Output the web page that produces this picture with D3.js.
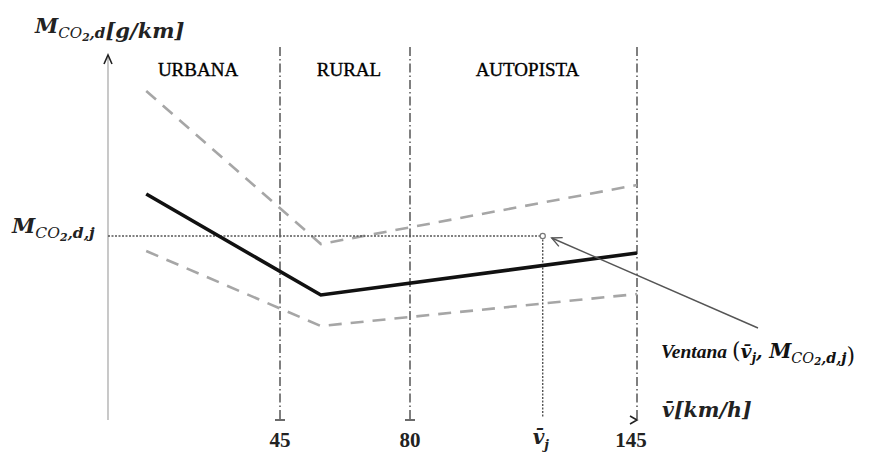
<!DOCTYPE html>
<html>
<head>
<meta charset="utf-8">
<script src="https://cdn.jsdelivr.net/npm/d3@7/dist/d3.min.js"></script>
<style>
  html, body { margin: 0; padding: 0; background: #fff; }
  svg { display: block; }
  .serif { font-family: "Liberation Serif", "DejaVu Serif", serif; }
  .math { font-family: "DejaVu Serif", "Liberation Serif", serif; font-style: italic; font-weight: bold; }
</style>
</head>
<body>
<svg id="chart" width="874" height="452"></svg>
<script>
// Speed zones (km/h) and their labels
const zoneBounds = [0, 45, 80, 145];
const zoneNames = ["URBANA", "RURAL", "AUTOPISTA"];
const tickSpeeds = [45, 80, 145];

// CO2 emission curve vs. mean speed (schematic g/km values)
const speeds = [10, 56, 145];
const meanCurve = [225, 124, 166];
const upperBand = [328, 175, 234];
const lowerBand = [168, 93, 125];

// Sample window (mean speed, emission)
const windowSpeed = 118;
const windowEmission = 183;

const svg = d3.select("#chart");

// Piecewise scale: the zones are drawn schematically, not to scale
const x = d3.scaleLinear().domain(zoneBounds).range([108, 280, 410, 637]);
const y = d3.scaleLinear().domain([0, 360]).range([419, 59]);

const line = d3.line().x(d => x(d[0])).y(d => y(d[1]));
const pts = arr => speeds.map((s, i) => [s, arr[i]]);

// Zone boundaries (dash-dot)
svg.selectAll("line.zone").data(tickSpeeds).join("line")
  .attr("class", "zone")
  .attr("x1", d => x(d)).attr("x2", d => x(d))
  .attr("y1", 47).attr("y2", y(0))
  .attr("stroke", "#555").attr("stroke-width", 1.5)
  .attr("stroke-dasharray", "9,3,1.5,3");

// Small ticks at the foot of the boundaries
svg.selectAll("line.tick").data([45, 80]).join("line")
  .attr("class", "tick")
  .attr("x1", d => x(d) - 5).attr("x2", d => x(d) + 5)
  .attr("y1", y(0) + 1).attr("y2", y(0) + 1)
  .attr("stroke", "#444").attr("stroke-width", 1.6);

// Y axis with arrow
svg.append("line")
  .attr("x1", x(0)).attr("x2", x(0))
  .attr("y1", 58).attr("y2", y(0) + 1)
  .attr("stroke", "#bbb").attr("stroke-width", 1.6);
svg.append("path")
  .attr("d", `M${x(0) - 4},${64} L${x(0)},${55} L${x(0) + 4},${64}`)
  .attr("fill", "none").attr("stroke", "#222").attr("stroke-width", 1.6);

// X axis arrow head at 145
svg.append("path")
  .attr("d", `M${x(145) - 7},${y(0) - 3} L${x(145)},${y(0) + 1} L${x(145) - 7},${y(0) + 5}`)
  .attr("fill", "none").attr("stroke", "#222").attr("stroke-width", 1.6);

// Dashed band curves
[upperBand, lowerBand].forEach(b => {
  svg.append("path")
    .attr("d", line(pts(b)))
    .attr("fill", "none").attr("stroke", "#a6a6a6").attr("stroke-width", 2.6)
    .attr("stroke-dasharray", "13,9");
});

// Window guides (dotted)
svg.append("line")
  .attr("x1", x(0)).attr("x2", x(windowSpeed))
  .attr("y1", y(windowEmission)).attr("y2", y(windowEmission))
  .attr("stroke", "#555").attr("stroke-width", 1.4).attr("stroke-dasharray", "2,1.5");
svg.append("line")
  .attr("x1", x(windowSpeed)).attr("x2", x(windowSpeed))
  .attr("y1", y(windowEmission)).attr("y2", y(0) - 2)
  .attr("stroke", "#555").attr("stroke-width", 1.4).attr("stroke-dasharray", "2,1.5");

// Mean emission curve
svg.append("path")
  .attr("d", line(pts(meanCurve)))
  .attr("fill", "none").attr("stroke", "#111").attr("stroke-width", 3.6)
  .attr("stroke-linejoin", "miter");

// Window point
svg.append("circle")
  .attr("cx", x(windowSpeed)).attr("cy", y(windowEmission)).attr("r", 2.6)
  .attr("fill", "#fff").attr("stroke", "#777").attr("stroke-width", 1.2);

// Annotation arrow pointing at the window
const ax = x(windowSpeed) + 9, ay = y(windowEmission) + 2;
const bx = 758, by = 328;
svg.append("line")
  .attr("x1", ax).attr("y1", ay).attr("x2", bx).attr("y2", by)
  .attr("stroke", "#555").attr("stroke-width", 1.4);
const ang = Math.atan2(by - ay, bx - ax);
const hl = 11, spread = 0.45;
svg.append("path")
  .attr("d", `M${ax + hl * Math.cos(ang - spread)},${ay + hl * Math.sin(ang - spread)} L${ax},${ay} L${ax + hl * Math.cos(ang + spread)},${ay + hl * Math.sin(ang + spread)}`)
  .attr("fill", "none").attr("stroke", "#555").attr("stroke-width", 1.4);

// Zone labels
svg.selectAll("text.zone").data(zoneNames).join("text")
  .attr("class", "zone serif")
  .attr("x", (d, i) => (x(zoneBounds[i]) + x(zoneBounds[i + 1])) / 2 + 4)
  .attr("y", 76)
  .attr("text-anchor", "middle")
  .attr("font-size", 19)
  .attr("fill", "#000").attr("stroke", "#000").attr("stroke-width", 0.35)
  .text(d => d);

// Bottom tick labels
svg.selectAll("text.ticklbl").data(tickSpeeds).join("text")
  .attr("class", "ticklbl serif")
  .attr("x", d => x(d) - (d === 145 ? 6 : 0))
  .attr("y", 447)
  .attr("text-anchor", "middle")
  .attr("font-size", 21).attr("font-weight", "bold")
  .attr("fill", "#222")
  .text(d => d);

// v̄_j label under the window speed
const vj = svg.append("text").attr("class", "math")
  .attr("x", x(windowSpeed) - 10).attr("y", 444).attr("font-size", 20).attr("fill", "#222");
vj.append("tspan").text("v\u0304");
vj.append("tspan").attr("font-size", 13).attr("dy", 5).text("j");

// Helper: M with CO2 subscript
function emissionSymbol(sel, size, subTail, ratio) {
  const r = ratio || 0.7;
  sel.append("tspan").attr("font-size", size).text("M");
  sel.append("tspan").attr("font-size", size * r).attr("dy", size * 0.24).attr("font-weight", "normal").text("CO");
  sel.append("tspan").attr("font-size", size * r * 0.7).attr("dy", size * 0.12).text("2");
  sel.append("tspan").attr("font-size", size * r).attr("dy", -size * 0.12).text(subTail);
  sel.append("tspan").attr("font-size", size).attr("dy", -size * 0.24).text("");
}

// Y axis title
const yt = svg.append("text").attr("class", "math").attr("x", 35).attr("y", 33).attr("fill", "#222");
emissionSymbol(yt, 21, ",d", 0.72);
yt.append("tspan").attr("font-size", 21).text("[g/km]");

// Window emission label on the y axis
const yl = svg.append("text").attr("class", "math").attr("x", 12).attr("y", 233).attr("fill", "#222");
emissionSymbol(yl, 21, ",d,j", 0.74);

// X axis title
const xt = svg.append("text").attr("class", "math").attr("x", 662).attr("y", 417).attr("fill", "#222");
xt.append("tspan").attr("font-size", 20.5).text("v\u0304[km/h]");

// Window annotation label
const wl = svg.append("text").attr("class", "math").attr("x", 661).attr("y", 358).attr("fill", "#111");
wl.append("tspan").attr("font-size", 19.5).style("font-family", "'Liberation Serif', serif").text("Ventana ");
wl.append("tspan").attr("font-size", 22).attr("font-style", "normal").style("font-weight", "normal").text("(");
wl.append("tspan").attr("font-size", 19).text("v\u0304");
wl.append("tspan").attr("font-size", 12).attr("dy", 4).text("j");
wl.append("tspan").attr("font-size", 19).attr("dy", -4).text(", ");
emissionSymbol(wl, 20, ",d,j", 0.72);
wl.append("tspan").attr("font-size", 22).style("font-style", "normal").style("font-weight", "normal").text(")");
</script>
</body>
</html>
